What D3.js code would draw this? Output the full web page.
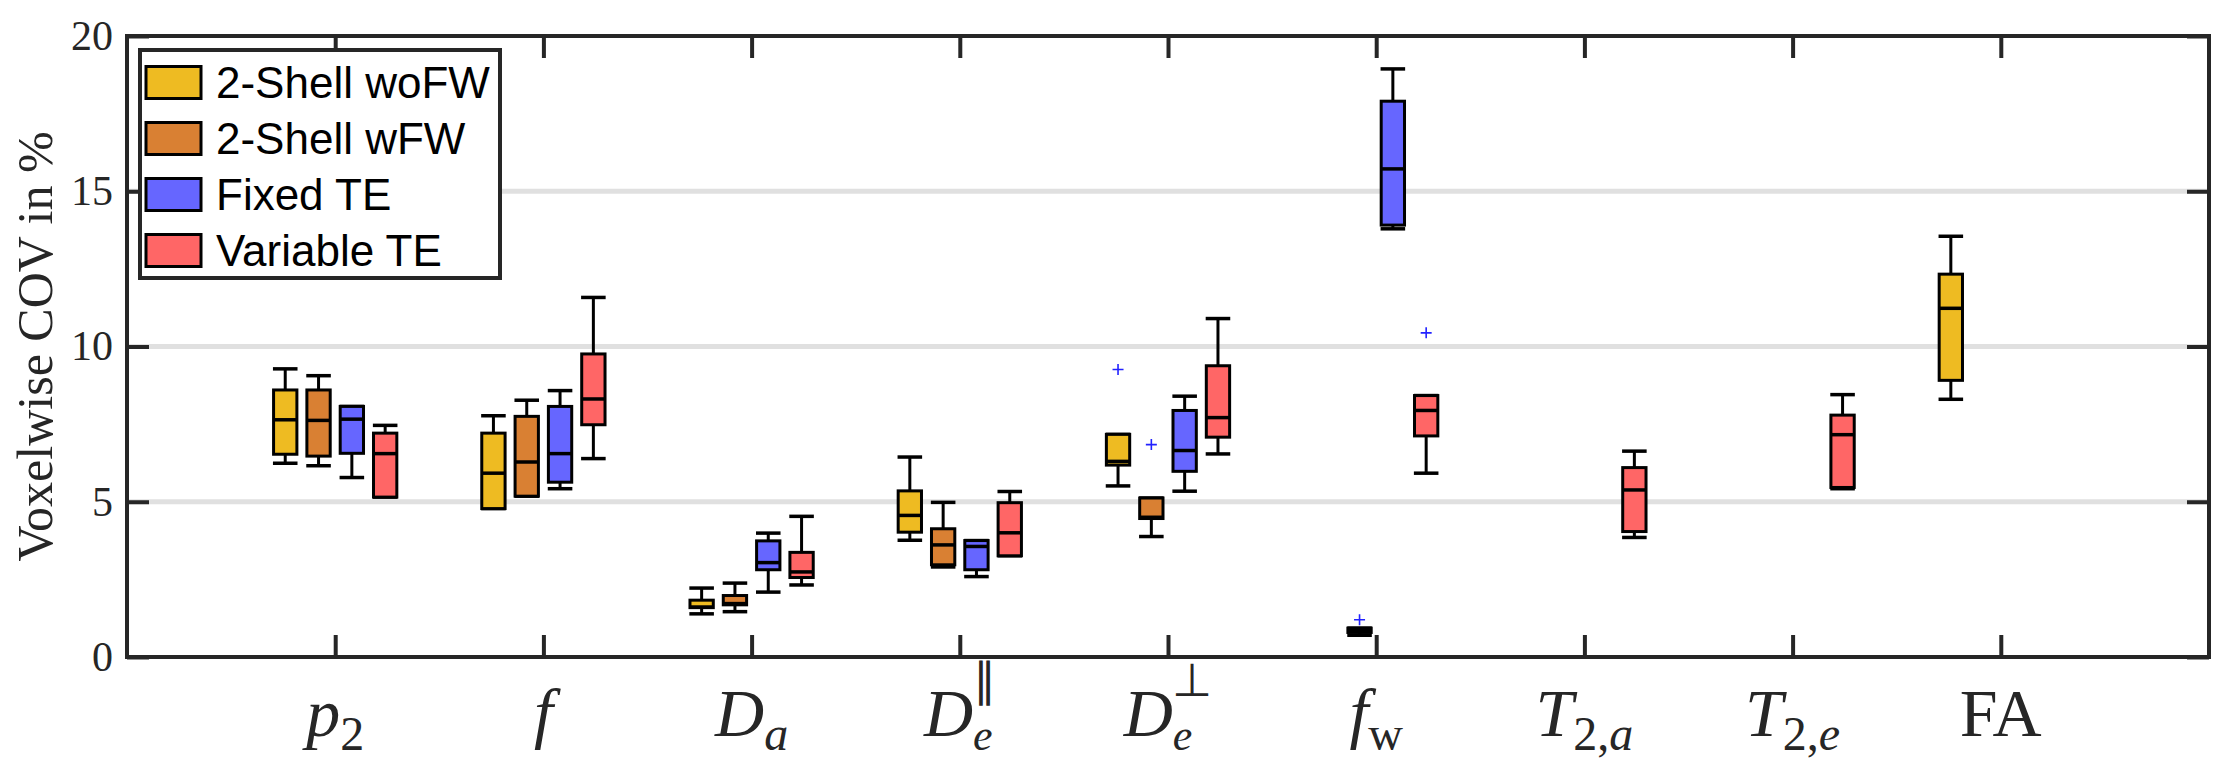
<!DOCTYPE html>
<html>
<head>
<meta charset="utf-8">
<script src="https://cdn.jsdelivr.net/npm/d3@7"></script>
<style>
  body { margin: 0; background: #fff; }
  svg text { fill: #262626; }
</style>
</head>
<body>
<div id="chart"></div>
<script>
// categories on the x axis (positions 1..9)
const categories = ["p2", "f", "Da", "DePar", "DePerp", "fw", "T2a", "T2e", "FA"];

// tick labels as pieces: [text, kind]  i = italic, r = roman, sub/subi = subscript, sup = superscript
const tickLabels = [
    [["p", "i"], ["2", "sub"]],
    [["f", "i"]],
    [["D", "i"], ["a", "subi"]],
    [["D", "i"], ["e", "subi"], ["\u2225", "sup"]],
    [["D", "i"], ["e", "subi"], ["\u22A5", "sup"]],
    [["f", "i"], ["w", "sub"]],
    [["T", "i"], ["2,", "sub"], ["a", "subi"]],
    [["T", "i"], ["2,", "sub"], ["e", "subi"]],
    [["FA", "r"]]
];

const seriesNames = ["2-Shell woFW", "2-Shell wFW", "Fixed TE", "Variable TE"];
const seriesColors = ["#EEBB22", "#D98033", "#6666FF", "#FF6666"];
const seriesOffsets = [-0.24, -0.08, 0.08, 0.24];

const yTicks = [0, 5, 10, 15, 20];
const gridTicks = [5, 10, 15];

// box stats per category: [lower whisker, q1, median, q3, upper whisker], null = not fitted
const woFW = [
    [6.24, 6.53, 7.64, 8.60, 9.28],
    [4.78, 4.78, 5.92, 7.21, 7.77],
    [1.39, 1.59, 1.61, 1.83, 2.22],
    [3.76, 4.02, 4.56, 5.35, 6.44],
    [5.51, 6.18, 6.30, 7.17, 7.17],
    null,
    null,
    null,
    [8.30, 8.91, 11.23, 12.33, 13.55]
];
const wFW = [
    [6.16, 6.47, 7.62, 8.60, 9.06],
    [5.18, 5.18, 6.28, 7.75, 8.27],
    [1.46, 1.68, 1.72, 1.98, 2.38],
    [2.90, 2.97, 3.61, 4.13, 4.98],
    [3.88, 4.46, 4.50, 5.12, 5.12],
    [0.70, 0.79, 0.85, 0.93, 0.93],
    null,
    null,
    null
];
const fixedTE = [
    [5.78, 6.56, 7.66, 8.07, 8.07],
    [5.42, 5.63, 6.55, 8.07, 8.58],
    [2.09, 2.81, 3.04, 3.74, 3.99],
    [2.59, 2.81, 3.56, 3.75, 3.75],
    [5.34, 5.98, 6.65, 7.94, 8.40],
    [13.79, 13.91, 15.72, 17.90, 18.94],
    null,
    null,
    null
];
const variableTE = [
    [5.15, 5.15, 6.55, 7.21, 7.46],
    [6.39, 7.48, 8.31, 9.76, 11.58],
    [2.32, 2.56, 2.74, 3.37, 4.53],
    [3.26, 3.26, 4.00, 4.97, 5.33],
    [6.54, 7.08, 7.71, 9.38, 10.90],
    [5.92, 7.12, 7.94, 8.42, 8.42],
    [3.85, 4.04, 5.38, 6.10, 6.63],
    [5.42, 5.46, 7.16, 7.79, 8.45],
    null
];

// outliers: [series index, category index, value]
const outliers = [
    [0, 4, 9.26],
    [1, 4, 6.84],
    [1, 5, 1.20],
    [3, 5, 10.44]
];

const allSeries = [woFW, wFW, fixedTE, variableTE];

const margin = {top: 36, right: 19, bottom: 109, left: 127},
    width = 2228 - margin.left - margin.right,
    height = 766 - margin.top - margin.bottom;

const svg = d3.select("#chart").append("svg")
    .attr("width", width + margin.left + margin.right)
    .attr("height", height + margin.top + margin.bottom)
    .append("g")
    .attr("transform", "translate(" + margin.left + "," + margin.top + ")");

const x = d3.scaleLinear().domain([0, 10]).range([0, width]);
const y = d3.scaleLinear().domain([0, 20]).range([height, 0]);

const boxW = x(0.112) - x(0);
const capW = x(0.118) - x(0);

// grid
svg.append("g").selectAll("line")
    .data(gridTicks)
    .join("line")
    .attr("x1", 0).attr("x2", width)
    .attr("y1", d => y(d)).attr("y2", d => y(d))
    .style("stroke", "#e0e0e0")
    .style("stroke-width", 5);

// boxes
allSeries.forEach((series, s) => {
    const g = svg.append("g").attr("class", "series-" + s);
    series.forEach((d, c) => {
        if (!d) return;
        const cx = x(c + 1 + seriesOffsets[s]);
        g.append("line")
            .attr("x1", cx).attr("x2", cx)
            .attr("y1", y(d[0])).attr("y2", y(d[1]))
            .style("stroke", "#000").style("stroke-width", 3);
        g.append("line")
            .attr("x1", cx).attr("x2", cx)
            .attr("y1", y(d[3])).attr("y2", y(d[4]))
            .style("stroke", "#000").style("stroke-width", 3);
        [d[0], d[4]].forEach(v => {
            g.append("line")
                .attr("x1", cx - capW / 2).attr("x2", cx + capW / 2)
                .attr("y1", y(v)).attr("y2", y(v))
                .style("stroke", "#000").style("stroke-width", 3.5);
        });
        g.append("rect")
            .attr("x", cx - boxW / 2)
            .attr("y", y(d[3]))
            .attr("width", boxW)
            .attr("height", Math.max(y(d[1]) - y(d[3]), 0.5))
            .style("fill", seriesColors[s])
            .style("stroke", "#000")
            .style("stroke-width", 3);
        g.append("line")
            .attr("x1", cx - boxW / 2).attr("x2", cx + boxW / 2)
            .attr("y1", y(d[2])).attr("y2", y(d[2]))
            .style("stroke", "#000").style("stroke-width", 3.5);
    });
});

// outlier markers
svg.append("g").selectAll("path")
    .data(outliers)
    .join("path")
    .attr("d", d => {
        const px = x(d[1] + 1 + seriesOffsets[d[0]]), py = y(d[2]), r = 5.5;
        return `M${px - r},${py}H${px + r}M${px},${py - r}V${py + r}`;
    })
    .style("stroke", "#2222ff")
    .style("stroke-width", 1.6)
    .style("fill", "none");

// axes (ticks only, frame drawn separately)
const axisStyle = g => {
    g.select(".domain").remove();
    g.selectAll(".tick line").style("stroke", "#262626").style("stroke-width", 4);
};

svg.append("g")
    .attr("transform", "translate(0," + height + ")")
    .call(d3.axisBottom(x).tickValues(d3.range(1, 10)).tickSizeInner(-22).tickSizeOuter(0).tickFormat(""))
    .call(axisStyle);
svg.append("g")
    .call(d3.axisTop(x).tickValues(d3.range(1, 10)).tickSizeInner(-22).tickSizeOuter(0).tickFormat(""))
    .call(axisStyle);
svg.append("g")
    .call(d3.axisLeft(y).tickValues(yTicks).tickSizeInner(-22).tickSizeOuter(0).tickPadding(14).tickFormat(d3.format("d")))
    .call(axisStyle)
    .call(g => g.selectAll(".tick text")
        .style("font-family", "'Liberation Serif', serif")
        .style("font-size", "42px")
        .style("fill", "#262626"));
svg.append("g")
    .attr("transform", "translate(" + width + ",0)")
    .call(d3.axisRight(y).tickValues(yTicks).tickSizeInner(-22).tickSizeOuter(0).tickFormat(""))
    .call(axisStyle);

svg.append("rect")
    .attr("x", 0).attr("y", 0)
    .attr("width", width).attr("height", height)
    .style("fill", "none")
    .style("stroke", "#262626")
    .style("stroke-width", 4);

// x tick labels with sub/superscripts
const labelG = svg.append("g")
    .style("font-family", "'Liberation Serif', serif");
tickLabels.forEach((parts, i) => {
    const hasSup = parts.some(p => p[1] === "sup");
    const t = labelG.append("text")
        .attr("x", x(i + 1))
        .attr("y", height + 79)
        .attr("text-anchor", "middle")
        .style("font-size", "68px");
    let shift = 0;
    let lastSubW = 0;
    parts.forEach(([txt, kind]) => {
        const ts = t.append("tspan").text(txt);
        let target = 0;
        if (kind === "i") ts.style("font-style", "italic");
        if (kind === "sub" || kind === "subi") {
            target = 14;
            ts.style("font-size", hasSup ? "44px" : "48px");
            if (kind === "subi") ts.style("font-style", "italic");
            lastSubW = txt.length * (hasSup ? 20 : 21);
        }
        if (kind === "sup") {
            target = -40;
            ts.style("font-size", "46px");
            ts.attr("dx", -lastSubW);
        }
        ts.attr("dy", target - shift);
        shift = target;
    });
});

// y axis label
svg.append("text")
    .attr("transform", "translate(" + (52 - margin.left) + "," + (height / 2) + ") rotate(-90)")
    .attr("text-anchor", "middle")
    .style("font-family", "'Liberation Serif', serif")
    .style("font-size", "50px")
    .text("Voxelwise COV in %");

// legend
const legend = svg.append("g").attr("transform", "translate(" + (140 - margin.left) + "," + (50 - margin.top) + ")");
legend.append("rect")
    .attr("width", 360).attr("height", 228)
    .style("fill", "#fff")
    .style("stroke", "#262626")
    .style("stroke-width", 4);
seriesNames.forEach((name, i) => {
    const row = legend.append("g").attr("transform", "translate(0," + (31.5 + i * 56) + ")");
    row.append("rect")
        .attr("x", 6).attr("y", -15)
        .attr("width", 55).attr("height", 32)
        .style("fill", seriesColors[i])
        .style("stroke", "#000")
        .style("stroke-width", 3);
    row.append("text")
        .attr("x", 76).attr("y", 16)
        .style("font-family", "'Liberation Sans', Arial, sans-serif")
        .style("font-size", "44px")
        .style("fill", "#000")
        .text(name);
});
</script>
</body>
</html>
